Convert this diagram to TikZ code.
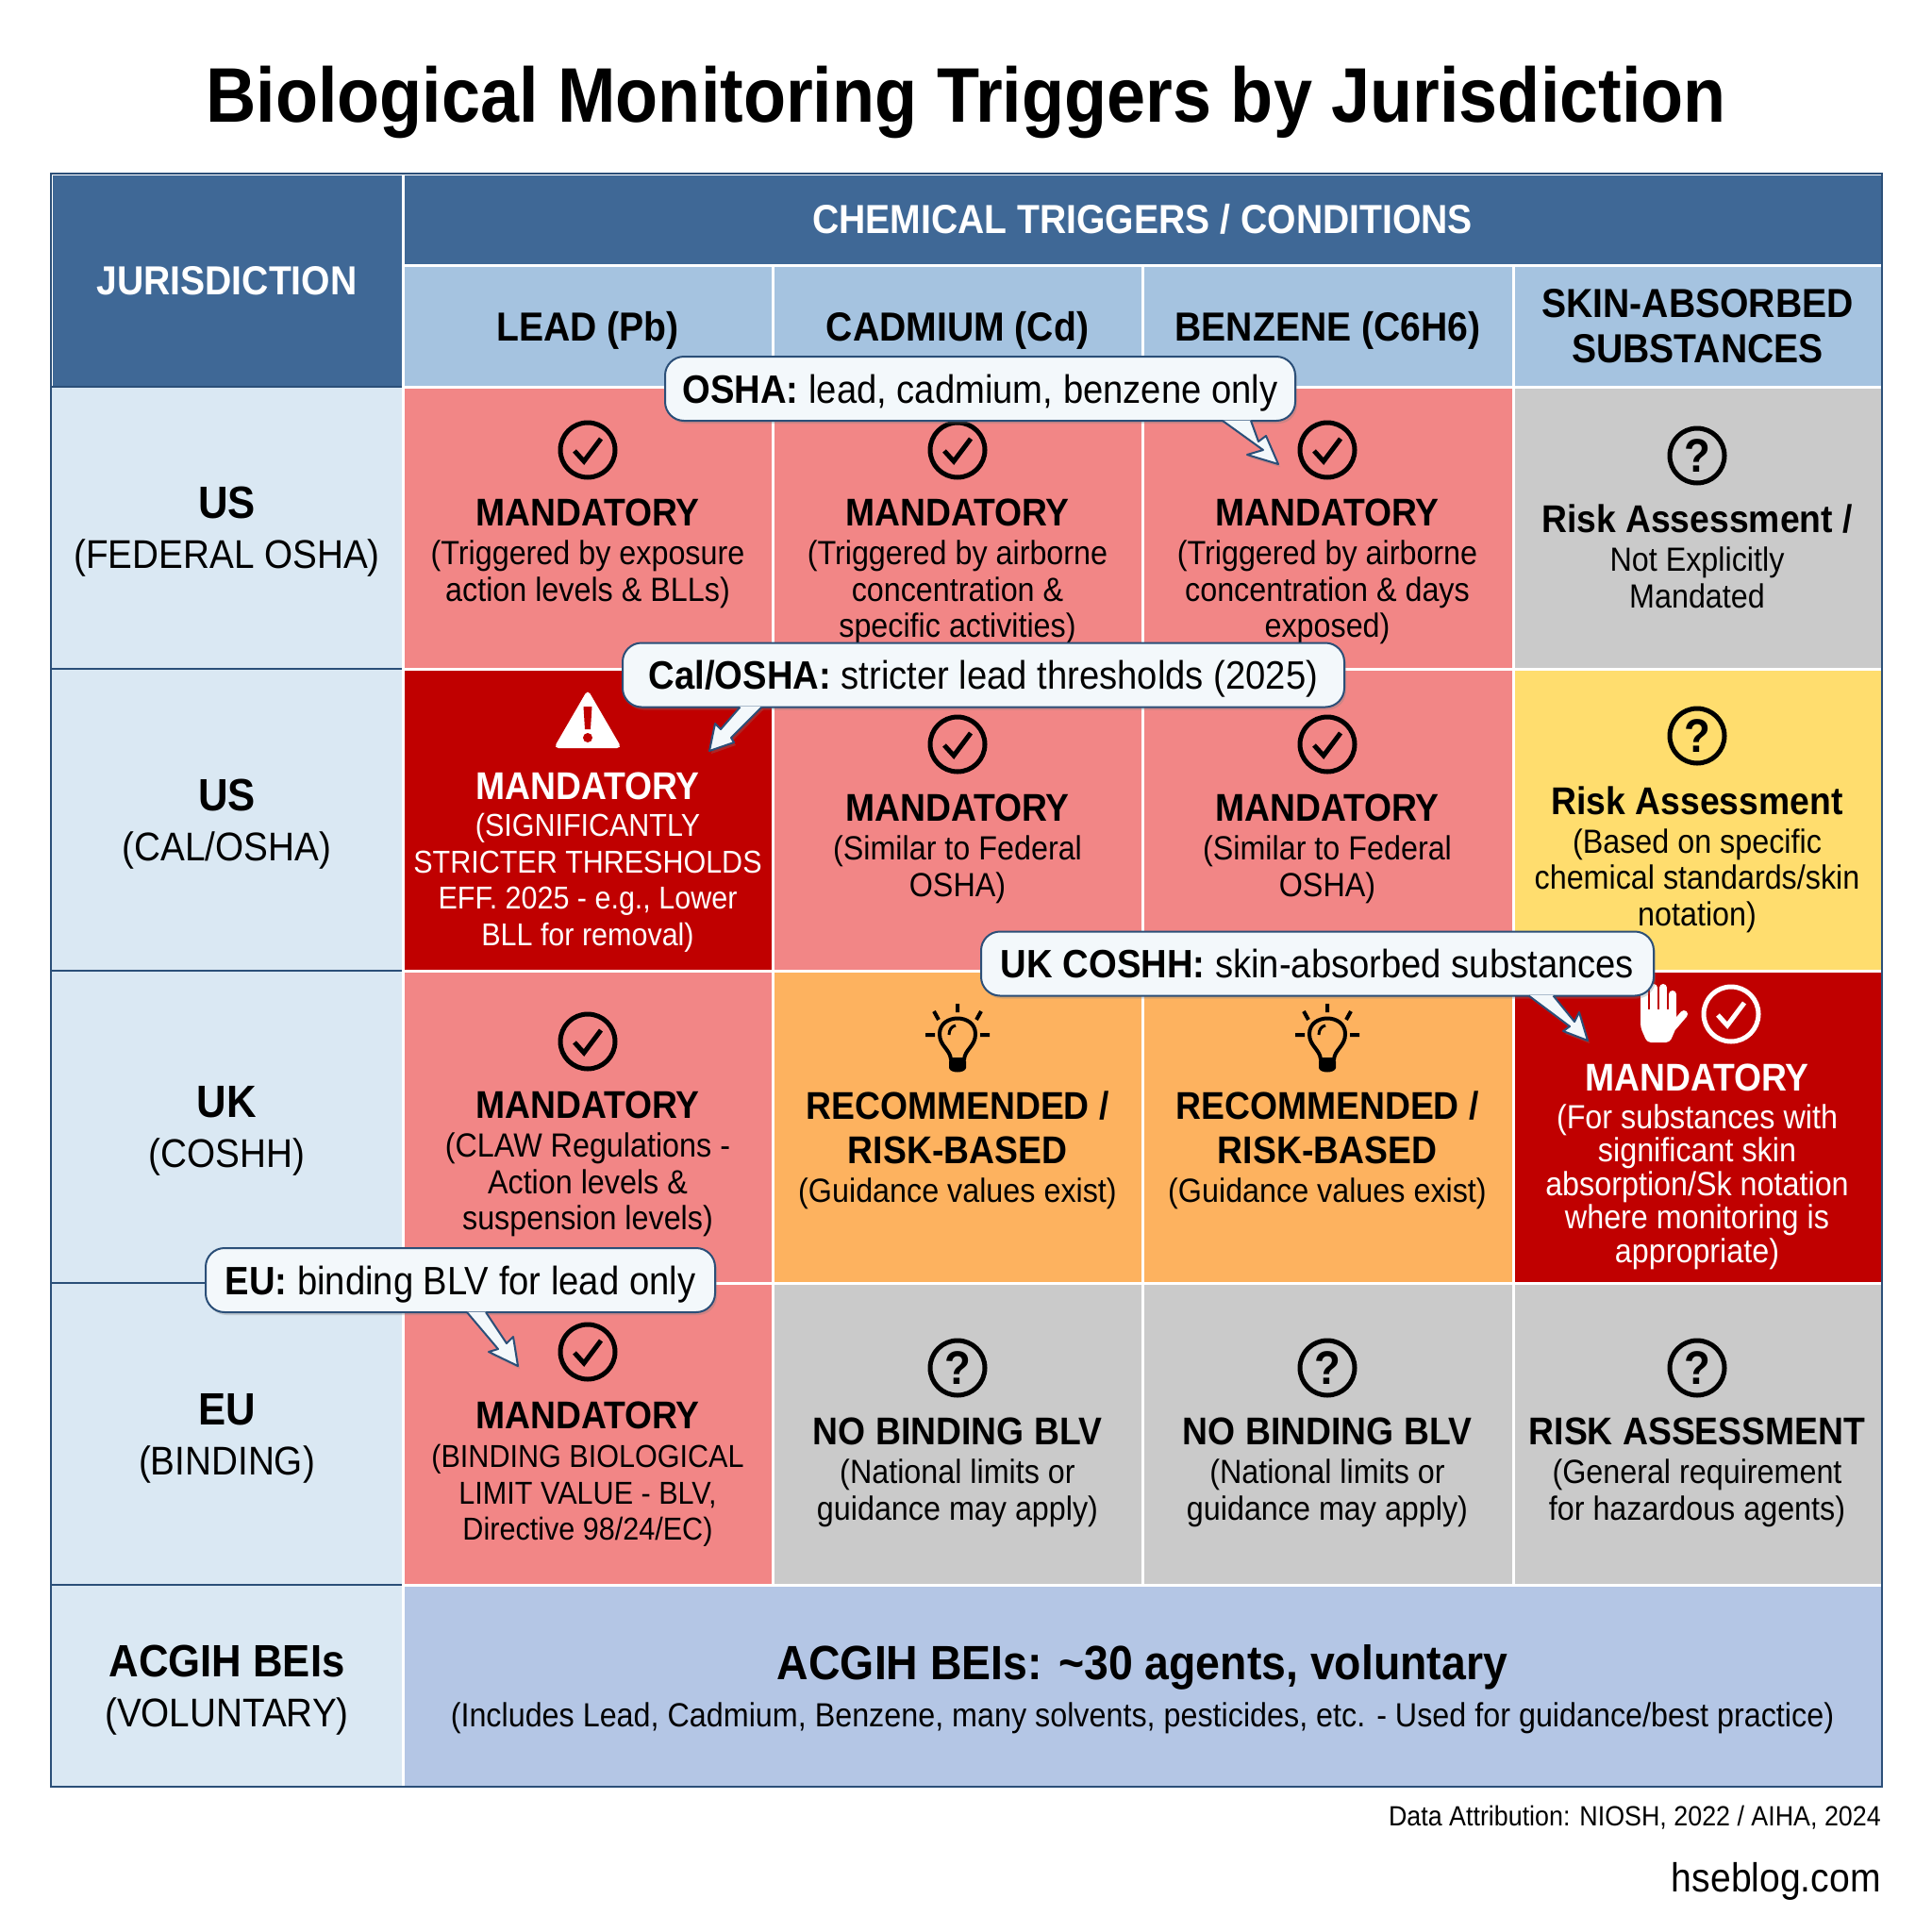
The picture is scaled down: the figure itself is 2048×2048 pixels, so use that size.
\documentclass[tikz,border=0pt]{standalone}
\usepackage{fontspec}
\setmainfont{Liberation Sans}[FakeStretch=0.91]
\newfontfamily\titlefam{Liberation Sans}[FakeStretch=0.9]
\usetikzlibrary{shadows}

\definecolor{navy}{HTML}{2B4F78}
\definecolor{headblue}{HTML}{3F6896}
\definecolor{subblue}{HTML}{A5C3E0}
\definecolor{labelblue}{HTML}{DAE8F3}
\definecolor{salmon}{HTML}{F28686}
\definecolor{darkred}{HTML}{C00000}
\definecolor{softyellow}{HTML}{FFDD6E}
\definecolor{softorange}{HTML}{FDB25F}
\definecolor{softgray}{HTML}{CACACA}
\definecolor{acgihblue}{HTML}{B4C6E5}
\definecolor{bubble}{HTML}{F3F8FB}

\newcommand{\hd}{\fontsize{41}{41}\selectfont\bfseries}
\newcommand{\bd}{\fontsize{35.5}{38.5}\selectfont}
\newcommand{\lb}{\fontsize{42.5}{53}\selectfont}
\newcommand{\rl}[1]{{\fontsize{48}{53}\selectfont\bfseries #1}}

% tail of a bubble: base left, neck, barb, tip, barb, neck, base right
\newcommand{\bubbletail}[8]{
  \fill[bubble, drop shadow={opacity=.3, shadow xshift=2pt, shadow yshift=-3pt}]
    ([xshift=#2pt, yshift=1.5pt]#1.south) -- #3 -- #4 -- #5 -- #6 -- #7 -- ([xshift=#8pt, yshift=1.5pt]#1.south) -- cycle;
  \draw[navy, line width=2, line join=round]
    ([xshift=#2pt, yshift=1pt]#1.south) -- #3 -- #4 -- #5 -- #6 -- #7 -- ([xshift=#8pt, yshift=1pt]#1.south);
}

\tikzset{
  cell/.style 2 args={draw=white, line width=3, inner sep=0, minimum width=#1pt, minimum height=#2pt},
  head/.style={text=white, font=\fontsize{43}{48}\selectfont\bfseries, align=center},
  subhead/.style={fill=subblue, text=black, font=\fontsize{43}{48}\selectfont\bfseries, align=center, text depth=0pt},
  rowlabel/.style={draw=navy, line width=2, fill=labelblue, align=center, font=\lb, text depth=0pt},
  celltext/.style={align=center, font=\bd, inner sep=0},
  bubblebox/.style={draw=navy, line width=2, fill=bubble, rounded corners=20pt, inner sep=0, minimum height=68pt, text depth=0pt,
    font=\fontsize{42}{48}\selectfont, drop shadow={opacity=.3, shadow xshift=2pt, shadow yshift=-3pt}},
  checkicon/.pic={
    \draw[line width=5, pic actions] (0,0) circle (29);
    \draw[line width=5, pic actions] (-14,1) -- (-4,12) -- (14,-12);
  },
  questionicon/.pic={
    \draw[line width=5] (0,0) circle (29);
    \node[font=\fontsize{50}{50}\selectfont\bfseries, inner sep=0] (mark) at (0,0) {?};
  },
  bulbicon/.pic={
    \draw[line width=4] (-7,23) .. controls (-8,12) and (-19,9) .. (-19,-4) .. controls (-19,-26) and (19,-26) .. (19,-4) .. controls (19,9) and (8,12) .. (7,23) -- cycle;
    \draw[line width=3] (-9,-3) .. controls (-9,-9) and (-6,-12) .. (-2,-13);
    \fill (-9,25) -- (9,25) -- (9,32) .. controls (8,38) and (-8,38) .. (-9,32) -- cycle;
    \draw[line width=4] (0,-36) -- (0,-27) (-25,-28) -- (-20,-19) (25,-28) -- (20,-19)
      (-34,-3) -- (-24,-3) (24,-3) -- (34,-3);
  },
  warningicon/.pic={
    \fill[white, rounded corners=5pt] (0,-31) -- (36,31) -- (-36,31) -- cycle;
    \fill[darkred] (-4.5,-13) -- (4.5,-13) -- (3,11) -- (-3,11) -- cycle;
    \fill[darkred] (0,20) circle (5);
  },
  handicon/.pic={
    \draw[white, line width=8, line cap=round] (-18,0) -- (-18,-23) (-8,0) -- (-8,-28) (2,0) -- (2,-28) (12,0) -- (12,-21);
    \draw[white, line width=8, line cap=round] (12,14) -- (24,0);
    \fill[white, rounded corners=4pt] (-22,-5) -- (16,-5) -- (16,14) -- (9,30) -- (-15,30) -- (-22,14) -- cycle;
  }
}

\begin{document}
\begin{tikzpicture}[x=1pt, y=-1pt]
  \useasboundingbox (0,0) rectangle (2048,2048);

  \node[inner sep=0, font=\titlefam\fontsize{82}{82}\selectfont\bfseries] (title) at (1024,108) {Biological Monitoring Triggers by Jurisdiction};

  % header
  \node[cell={373}{226}, fill=headblue, head] (juris) at (240.5,297) {};
  \node[head, inner sep=0] (juristext) at (240.5,298) {JURISDICTION};
  \node[cell={1568}{97}, fill=headblue, head] (chem) at (1211,232.5) {CHEMICAL TRIGGERS / CONDITIONS};
  \node[cell={392}{129}, subhead] (lead) at (623,345.5) {LEAD (Pb)};
  \node[cell={392}{129}, subhead] (cadmium) at (1015,345.5) {CADMIUM (Cd)};
  \node[cell={393}{129}, subhead] (benzene) at (1407.5,345.5) {BENZENE (C6H6)};
  \node[cell={391}{129}, subhead] (skin) at (1799.5,345.5) {SKIN-ABSORBED\\SUBSTANCES};

  % row labels
  \node[cell={373}{299}, rowlabel] (usfed) at (240.5,559.5) {\rl{US}\\(FEDERAL OSHA)};
  \node[cell={373}{320}, rowlabel] (uscal) at (240.5,869) {\rl{US}\\(CAL/OSHA)};
  \node[cell={373}{331}, rowlabel] (uk) at (240.5,1194.5) {\rl{UK}\\(COSHH)};
  \node[cell={373}{320}, rowlabel] (eu) at (240.5,1520) {\rl{EU}\\(BINDING)};
  \node[cell={373}{214}, rowlabel] (acgih) at (240.5,1787) {\rl{ACGIH BEIs}\\(VOLUNTARY)};

  % cells
  \node[cell={392}{299}, fill=salmon] (c11) at (623,559.5) {};
  \node[cell={392}{299}, fill=salmon] (c12) at (1015,559.5) {};
  \node[cell={393}{299}, fill=salmon] (c13) at (1407.5,559.5) {};
  \node[cell={391}{299}, fill=softgray] (c14) at (1799.5,559.5) {};
  \node[cell={392}{320}, fill=darkred] (c21) at (623,869) {};
  \node[cell={392}{320}, fill=salmon] (c22) at (1015,869) {};
  \node[cell={393}{320}, fill=salmon] (c23) at (1407.5,869) {};
  \node[cell={391}{320}, fill=softyellow] (c24) at (1799.5,869) {};
  \node[cell={392}{331}, fill=salmon] (c31) at (623,1194.5) {};
  \node[cell={392}{331}, fill=softorange] (c32) at (1015,1194.5) {};
  \node[cell={393}{331}, fill=softorange] (c33) at (1407.5,1194.5) {};
  \node[cell={391}{331}, fill=darkred] (c34) at (1799.5,1194.5) {};
  \node[cell={392}{320}, fill=salmon] (c41) at (623,1520) {};
  \node[cell={392}{320}, fill=softgray] (c42) at (1015,1520) {};
  \node[cell={393}{320}, fill=softgray] (c43) at (1407.5,1520) {};
  \node[cell={391}{320}, fill=softgray] (c44) at (1799.5,1520) {};
  \node[cell={1568}{214}, fill=acgihblue] (voluntary) at (1211,1787) {};
  \node[draw=navy, line width=2, inner sep=0, minimum width=1941pt, minimum height=1710pt] (frame) at (1024.5,1039) {};

  % icons
  \foreach \px/\py in {623/477, 1015/477, 1407/477, 1015/789, 1407/789, 623/1104, 623/1433}
    \pic at (\px,\py) {checkicon};
  \pic[draw=white] at (1835,1075) {checkicon};
  \pic at (1799,483) {questionicon};
  \pic at (1799,780) {questionicon};
  \pic at (1015,1450) {questionicon};
  \pic at (1407,1450) {questionicon};
  \pic at (1799,1450) {questionicon};
  \pic at (1015,1100) {bulbicon};
  \pic at (1407,1100) {bulbicon};
  \pic at (623,762) {warningicon};
  \pic at (1761,1075) {handicon};

  % cell texts
  \node[celltext] (t11) at (623,587) {{\hd MANDATORY}\\[2.5pt](Triggered by exposure\\action levels \& BLLs)};
  \node[celltext] (t12) at (1015,606) {{\hd MANDATORY}\\[2.5pt](Triggered by airborne\\concentration \&\\specific activities)};
  \node[celltext] (t13) at (1407,606) {{\hd MANDATORY}\\[2.5pt](Triggered by airborne\\concentration \& days\\exposed)};
  \node[celltext] (t14) at (1799,590) {{\hd Risk Assessment /}\\[2.5pt]Not Explicitly\\Mandated};
  \node[celltext, text=white, font=\fontsize{33.5}{38.5}\selectfont] (t21) at (623,914) {{\hd MANDATORY}\\[1pt](SIGNIFICANTLY\\STRICTER THRESHOLDS\\EFF. 2025 - e.g., Lower\\BLL for removal)};
  \node[celltext] (t22) at (1015,900) {{\hd MANDATORY}\\[2.5pt](Similar to Federal\\OSHA)};
  \node[celltext] (t23) at (1407,900) {{\hd MANDATORY}\\[2.5pt](Similar to Federal\\OSHA)};
  \node[celltext] (t24) at (1799,911) {{\hd Risk Assessment}\\[2.5pt](Based on specific\\chemical standards/skin\\notation)};
  \node[celltext] (t31) at (623,1234) {{\hd MANDATORY}\\[2.5pt](CLAW Regulations -\\Action levels \&\\suspension levels)};
  \node[celltext] (t32) at (1015,1219) {{\hd RECOMMENDED /}\\[8.5pt]{\hd RISK-BASED}\\[2.5pt](Guidance values exist)};
  \node[celltext] (t33) at (1407,1219) {{\hd RECOMMENDED /}\\[8.5pt]{\hd RISK-BASED}\\[2.5pt](Guidance values exist)};
  \node[celltext, text=white, font=\fontsize{35.5}{35.5}\selectfont] (t34) at (1799,1237) {{\hd MANDATORY}\\[4pt](For substances with\\significant skin\\absorption/Sk notation\\where monitoring is\\appropriate)};
  \node[celltext, font=\fontsize{33.6}{38.5}\selectfont] (t41) at (623,1563) {{\hd MANDATORY}\\[2.5pt](BINDING BIOLOGICAL\\LIMIT VALUE - BLV,\\Directive 98/24/EC)};
  \node[celltext] (t42) at (1015,1561) {{\hd NO BINDING BLV}\\[2.5pt](National limits or\\guidance may apply)};
  \node[celltext] (t43) at (1407,1561) {{\hd NO BINDING BLV}\\[2.5pt](National limits or\\guidance may apply)};
  \node[celltext] (t44) at (1799,1561) {{\hd RISK ASSESSMENT}\\[2.5pt](General requirement\\for hazardous agents)};
  \node[inner sep=0, font=\fontsize{51}{51}\selectfont\bfseries] (t51) at (1211,1767) {ACGIH BEIs: \textasciitilde30 agents, voluntary};
  \node[inner sep=0, font=\bd] (t52) at (1211,1821) {(Includes Lead, Cadmium, Benzene, many solvents, pesticides, etc. - Used for guidance/best practice)};

  % bubbles
  \node[bubblebox, minimum width=668pt] (oshabox) at (1039,412) {\textbf{OSHA:} lead, cadmium, benzene only};
  \bubbletail{oshabox}{257}{(1339,477)}{(1322,482)}{(1355,492)}{(1342,462)}{(1334,468)}{287}
  \node[bubblebox, minimum width=765pt] (calbox) at (1042.5,715.5) {\textbf{Cal/OSHA:} stricter lead thresholds (2025)};
  \bubbletail{calbox}{-258}{(764,773)}{(758,767)}{(752,796)}{(778,787)}{(775,782)}{-235}
  \node[bubblebox, minimum width=713pt] (ukbox) at (1396.5,1021.5) {\textbf{UK COSHH:} skin-absorbed substances};
  \bubbletail{ukbox}{224}{(1664,1088)}{(1657,1093)}{(1683,1103)}{(1674,1073)}{(1669,1083)}{250}
  \node[bubblebox, minimum width=540pt] (eubox) at (488,1357) {\textbf{EU:} binding BLV for lead only};
  \bubbletail{eubox}{7}{(528,1430)}{(518,1433)}{(549,1448)}{(544,1417)}{(537,1424)}{27}

  % footer
  \node[anchor=east, inner sep=0, font=\fontsize{29.5}{29.5}\selectfont] (source) at (1994,1927) {Data Attribution: NIOSH, 2022 / AIHA, 2024};
  \node[anchor=east, inner sep=0, font=\fontsize{43}{43}\selectfont] (brand) at (1994,1994) {hseblog.com};
\end{tikzpicture}
\end{document}
